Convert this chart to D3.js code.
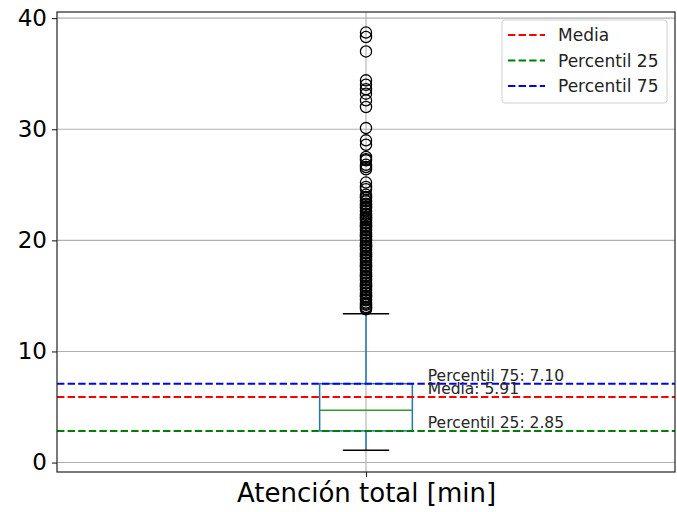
<!DOCTYPE html>
<html><head><meta charset="utf-8">
<script src="https://cdn.jsdelivr.net/npm/d3@7"></script>
<style>body{margin:0;background:#fff}svg{display:block;font-family:"DejaVu Sans",sans-serif}</style>
</head><body><svg id="c" width="677" height="512"></svg>
<script>
const category = "Atención total [min]";
const boxStats = {whiskerLow: 1.1, q1: 2.85, median: 4.7, q3: 7.10, whiskerHigh: 13.4};
const outliers = [38.7, 38.3, 37.0, 34.4, 34.0, 33.6, 33.2, 32.6, 32.0, 30.1, 29.0, 28.6,
  27.5, 27.3, 27.2, 26.8, 26.6, 26.4, 25.2, 24.8, 24.6, 24.1, 23.9, 23.8, 23.6, 23.5, 23.3,
  23.2, 23.0, 22.9, 22.7, 22.6, 22.4, 22.3, 22.1, 22.0, 21.9, 21.8, 21.6, 21.5, 21.3, 21.2,
  21.0, 20.9, 20.7, 20.6, 20.4, 20.3, 20.1, 20.0, 19.8, 19.7, 19.5, 19.4, 19.2, 19.1, 18.9,
  18.8, 18.6, 18.5, 18.3, 18.2, 18.0, 17.9, 17.7, 17.6, 17.4, 17.3, 17.1, 17.0, 16.8, 16.7,
  16.5, 16.4, 16.2, 16.1, 15.9, 15.8, 15.6, 15.5, 15.3, 15.2, 15.0, 14.9, 14.7, 14.6, 14.4,
  14.3, 14.2, 14.0, 13.9, 13.8];
const refLabels = ["Media", "Percentil 25", "Percentil 75"];
const refValues = [5.91, 2.85, 7.10];
const refColors = ["#ff0000", "#008000", "#0000ff"];
const yTicks = [0, 10, 20, 30, 40];

const svg = d3.select("#c");
const L = 57, R = 675, T = 12, B = 472;
const y = d3.scaleLinear().domain([-0.85, 40.55]).range([B, T]);
const x = d3.scaleLinear().domain([0.5, 1.5]).range([L, R]);

// grid
svg.append("g").selectAll("line").data(yTicks).join("line")
  .attr("x1", L).attr("x2", R).attr("y1", d => y(d)).attr("y2", d => y(d))
  .attr("stroke", "#b0b0b0").attr("stroke-width", 1.1);
svg.append("line").attr("x1", x(1)).attr("x2", x(1)).attr("y1", T).attr("y2", B)
  .attr("stroke", "#b0b0b0").attr("stroke-width", 1.1);

// axes
const ya = svg.append("g").attr("transform", `translate(${L},0)`)
  .call(d3.axisLeft(y).tickValues(yTicks).tickSize(5).tickPadding(5));
ya.selectAll("text").attr("font-size", 23).attr("fill", "#000").attr("font-family", "DejaVu Sans");
ya.select(".domain").remove();
ya.selectAll(".tick line").attr("stroke", "#222").attr("stroke-width", 1.1);
const xa = svg.append("g").attr("transform", `translate(0,${B})`)
  .call(d3.axisBottom(x).tickValues([1]).tickFormat(() => category).tickSize(5).tickPadding(7));
xa.selectAll("text").attr("font-size", 26).attr("fill", "#000").attr("font-family", "DejaVu Sans");
xa.select(".domain").remove();
xa.selectAll(".tick line").attr("stroke", "#222").attr("stroke-width", 1.1);

// box
const bw = 0.15, cw = 0.075;
const g = svg.append("g");
g.append("line").attr("x1", x(1)).attr("x2", x(1)).attr("y1", y(boxStats.q3)).attr("y2", y(boxStats.whiskerHigh))
  .attr("stroke", "#1f77b4").attr("stroke-width", 1.5);
g.append("line").attr("x1", x(1)).attr("x2", x(1)).attr("y1", y(boxStats.q1)).attr("y2", y(boxStats.whiskerLow))
  .attr("stroke", "#1f77b4").attr("stroke-width", 1.5);
[boxStats.whiskerLow, boxStats.whiskerHigh].forEach(v => {
  g.append("line").attr("x1", x(1 - cw / 2)).attr("x2", x(1 + cw / 2)).attr("y1", y(v)).attr("y2", y(v))
    .attr("stroke", "#000").attr("stroke-width", 1.5);
});
g.append("rect").attr("x", x(1 - bw / 2)).attr("width", x(1 + bw / 2) - x(1 - bw / 2))
  .attr("y", y(boxStats.q3)).attr("height", y(boxStats.q1) - y(boxStats.q3))
  .attr("fill", "none").attr("stroke", "#1f77b4").attr("stroke-width", 1.5);
g.append("line").attr("x1", x(1 - bw / 2)).attr("x2", x(1 + bw / 2)).attr("y1", y(boxStats.median)).attr("y2", y(boxStats.median))
  .attr("stroke", "#2ca02c").attr("stroke-width", 1.5);
g.append("g").selectAll("circle").data(outliers).join("circle")
  .attr("cx", x(1)).attr("cy", d => y(d)).attr("r", 5.6)
  .attr("fill", "none").attr("stroke", "#000").attr("stroke-width", 1.3);

// reference lines
svg.append("g").selectAll("line").data(refValues).join("line")
  .attr("x1", L).attr("x2", R).attr("y1", d => y(d)).attr("y2", d => y(d))
  .attr("stroke", (d, i) => refColors[i]).attr("stroke-width", 2).attr("stroke-dasharray", "7.4,3.2");
svg.append("g").selectAll("text").data(refValues).join("text")
  .attr("x", x(1.1)).attr("y", d => y(d) - 3)
  .attr("font-size", 15.5).attr("fill", "#262626")
  .text((d, i) => `${refLabels[i]}: ${d.toFixed(2)}`);

// spines
svg.append("rect").attr("x", L).attr("y", T).attr("width", R - L).attr("height", B - T)
  .attr("fill", "none").attr("stroke", "#222").attr("stroke-width", 1.2);

// legend
const lg = svg.append("g");
lg.append("rect").attr("x", 502).attr("y", 20).attr("width", 165).attr("height", 83).attr("rx", 3)
  .attr("fill", "#fff").attr("fill-opacity", 0.8).attr("stroke", "#d0d0d0").attr("stroke-width", 1);
refLabels.forEach((lab, i) => {
  const yy = 35 + i * 25.5;
  lg.append("line").attr("x1", 508).attr("x2", 545).attr("y1", yy).attr("y2", yy)
    .attr("stroke", refColors[i]).attr("stroke-width", 2).attr("stroke-dasharray", "7.4,3.2");
  lg.append("text").attr("x", 558).attr("y", yy).attr("dy", "0.36em")
    .attr("font-size", 17).attr("fill", "#222").text(lab);
});
</script></body></html>
